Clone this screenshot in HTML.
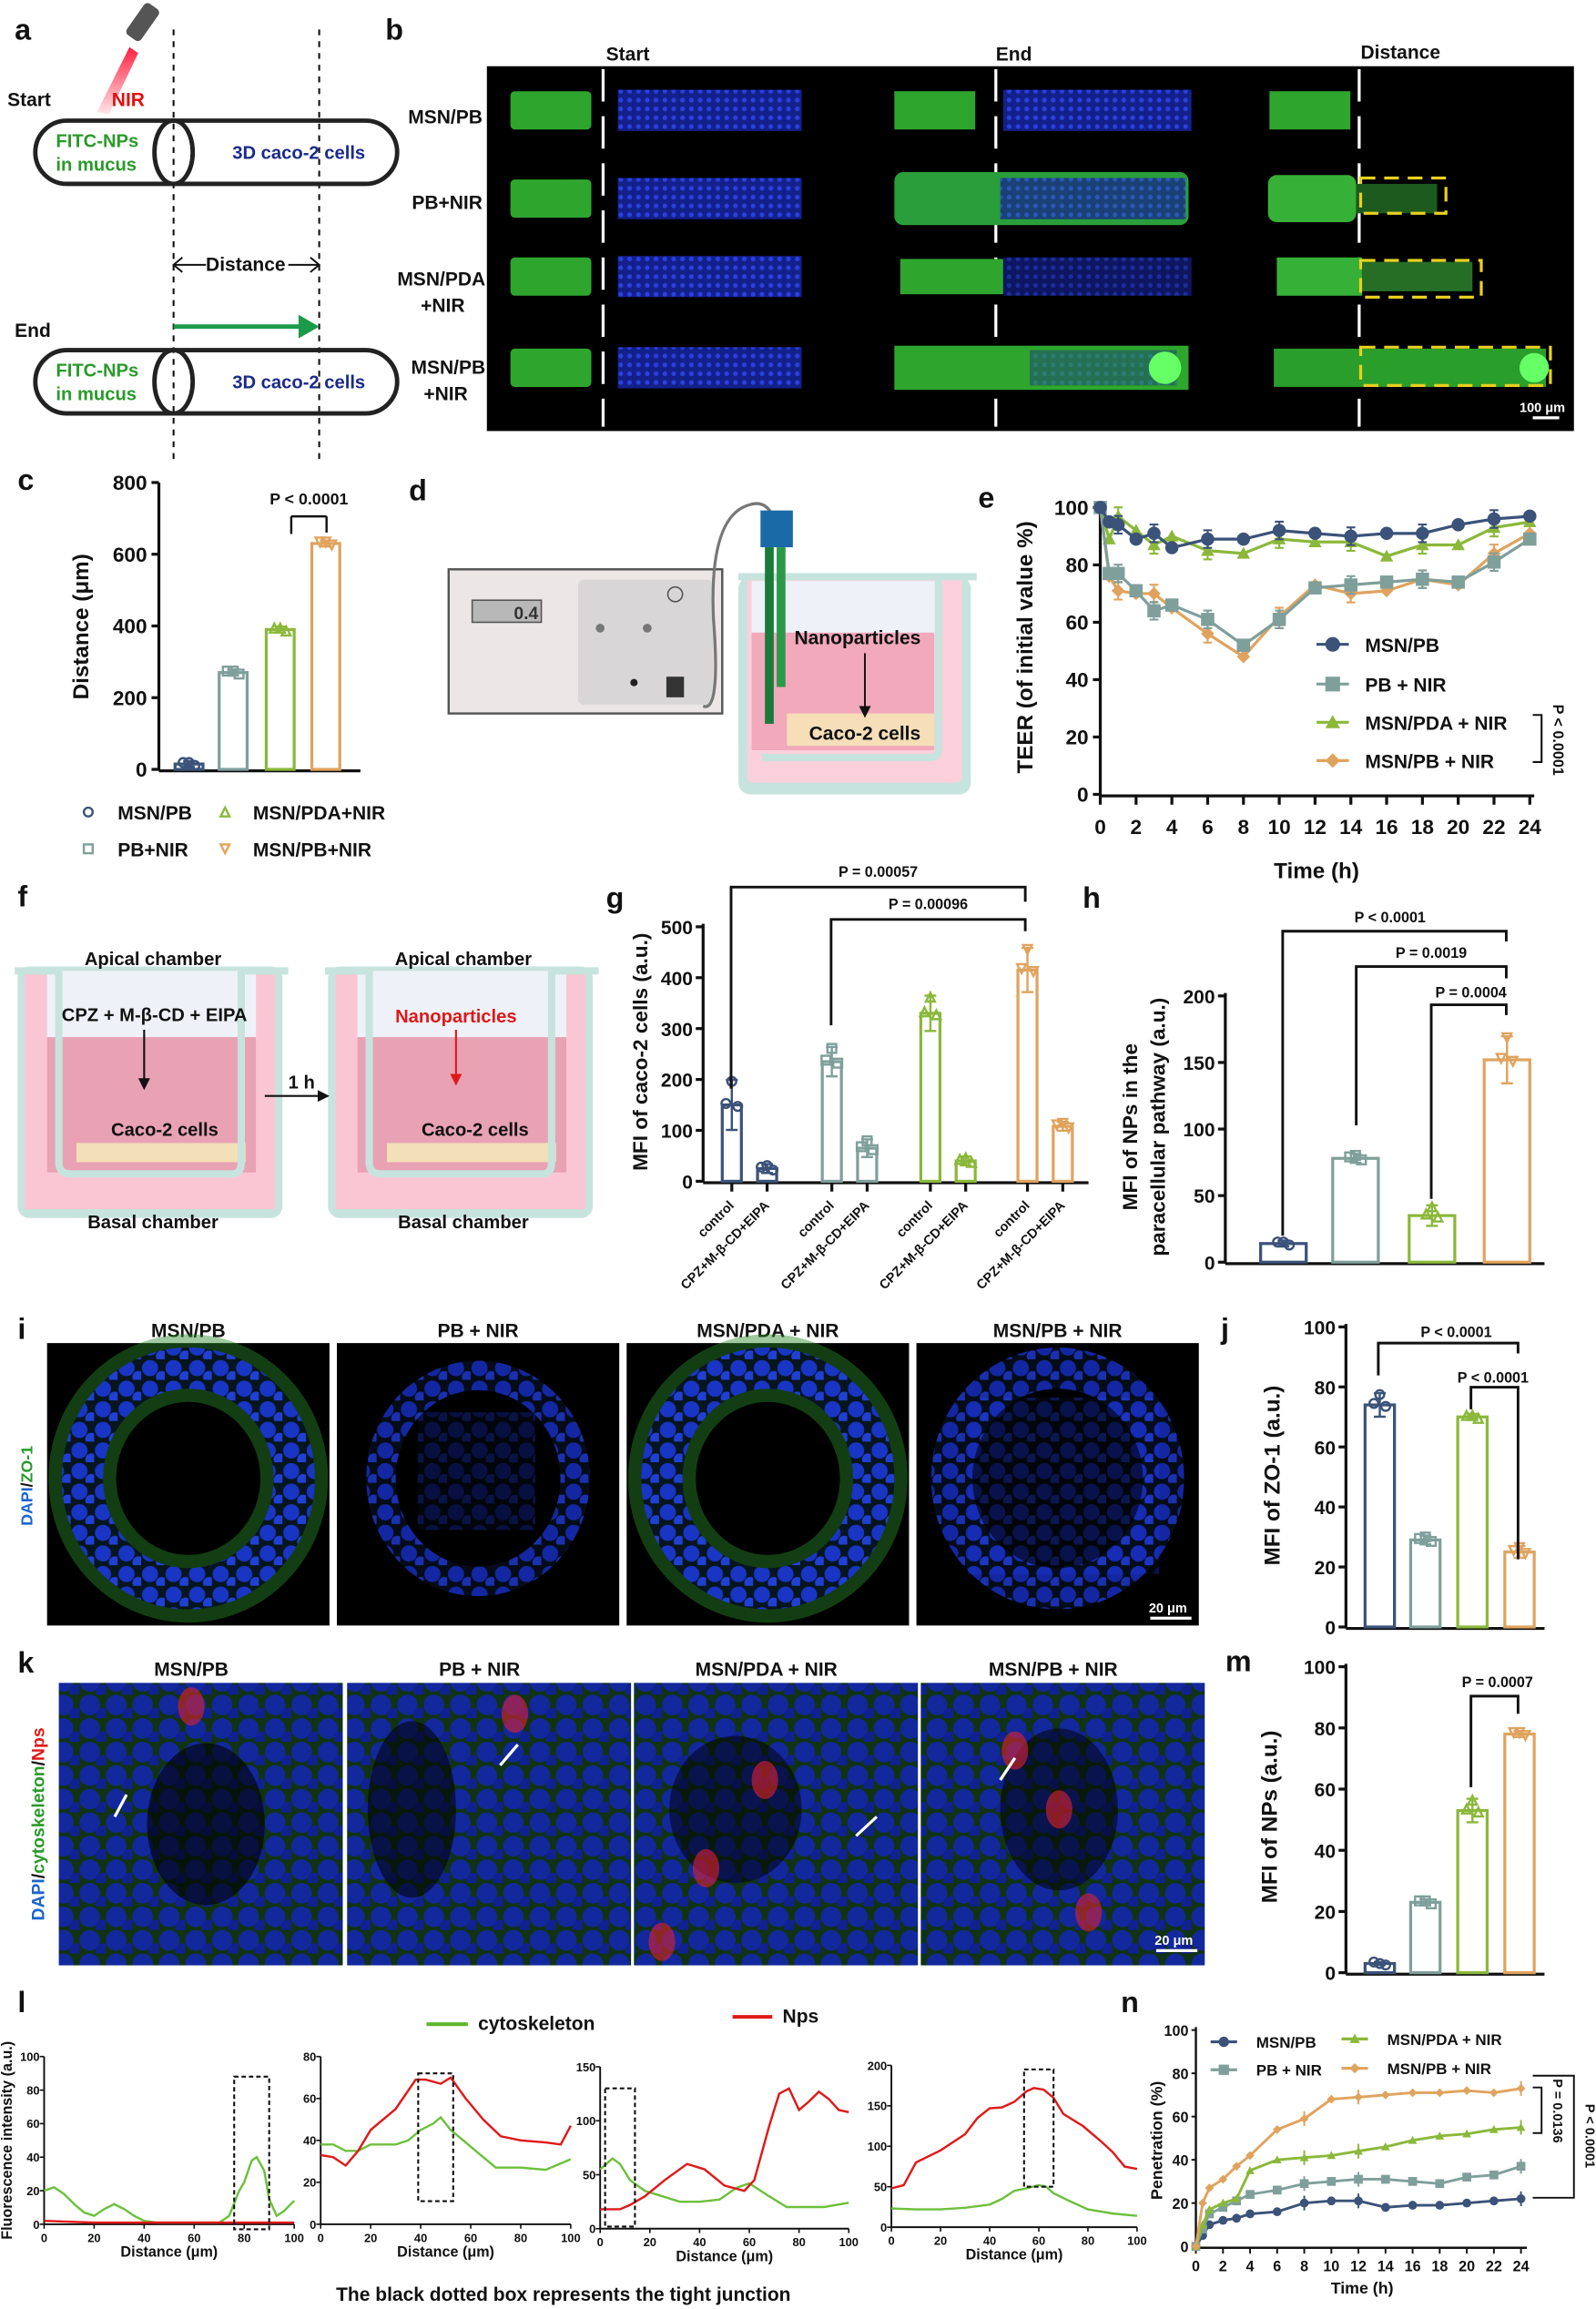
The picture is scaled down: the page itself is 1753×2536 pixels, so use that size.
<!DOCTYPE html>
<html><head><meta charset="utf-8"><style>
html,body{margin:0;padding:0;background:#fff}
svg{display:block}
text{font-family:"Liberation Sans",sans-serif;font-weight:bold}
</style></head><body>
<svg id="s" width="1753" height="2536" viewBox="0 0 1085 1569.6" xmlns="http://www.w3.org/2000/svg">
<defs>
<pattern id="cells" width="16" height="14" patternUnits="userSpaceOnUse">
<rect width="16" height="14" fill="#061020"/>
<circle cx="6" cy="6" r="5.5" fill="#1a34d8"/><circle cx="14" cy="12" r="4" fill="#2240e8"/>
</pattern>
<pattern id="cellsg" width="18" height="16" patternUnits="userSpaceOnUse">
<rect width="18" height="16" fill="#184a1c"/>
<circle cx="7" cy="7" r="7" fill="#1c3ae0"/><circle cx="16" cy="14" r="5" fill="#1830d0"/>
</pattern>
<pattern id="bluedots" width="6" height="6" patternUnits="userSpaceOnUse">
<rect width="6" height="6" fill="#14208a"/><circle cx="2" cy="2" r="1.6" fill="#2a40e0"/>
</pattern>
<linearGradient id="beam" x1="0" y1="0" x2="0" y2="1"><stop offset="0" stop-color="#ff2040"/><stop offset="1" stop-color="#ff2040" stop-opacity="0.1"/></linearGradient>
</defs>
<g id="g"></g>
</svg>
<script>
var o='';
function T(x,y,s,t,a,fill,extra){o+='<text x="'+x+'" y="'+y+'" font-size="'+s+'" text-anchor="'+(a||'start')+'" fill="'+(fill||'#111')+'" '+(extra||'')+'>'+t+'</text>';}
function L(x1,y1,x2,y2,c,w,extra){o+='<line x1="'+x1+'" y1="'+y1+'" x2="'+x2+'" y2="'+y2+'" stroke="'+(c||'#111')+'" stroke-width="'+(w||1.5)+'" '+(extra||'')+'/>';}
function R(x,y,w,h,f,extra){o+='<rect x="'+x+'" y="'+y+'" width="'+w+'" height="'+h+'" fill="'+f+'" '+(extra||'')+'/>';}
function P(pts,c,w,extra){o+='<polyline points="'+pts.map(function(p){return p[0].toFixed(1)+','+p[1].toFixed(1)}).join(' ')+'" fill="none" stroke="'+c+'" stroke-width="'+(w||1.5)+'" '+(extra||'')+'/>';}
var NV='#3b5279',TL='#7f9f9b',GR='#8bb83a',OR='#e0a35e',COL=[NV,TL,GR,OR];
function RT(x,y,s,t,fill){T(x,y,s,t,'middle',fill,'transform="rotate(-90 '+x+' '+y+')"');}
function om(x,y,i,r){r=r||3;var c=COL[i],s='fill="none" stroke="'+c+'" stroke-width="1.5"';
 if(i==0)o+='<circle cx="'+x+'" cy="'+y+'" r="'+r+'" '+s+'/>';
 else if(i==1)o+='<rect x="'+(x-r)+'" y="'+(y-r)+'" width="'+2*r+'" height="'+2*r+'" '+s+'/>';
 else if(i==2)o+='<polygon points="'+x+','+(y-r)+' '+(x+r)+','+(y+r)+' '+(x-r)+','+(y+r)+'" '+s+'/>';
 else o+='<polygon points="'+(x-r)+','+(y-r)+' '+(x+r)+','+(y-r)+' '+x+','+(y+r)+'" '+s+'/>';}
function bar(x,w,y0,top,i,err){var hgt=y0-top;R(x,top,w,hgt,'none','stroke="'+COL[i]+'" stroke-width="2"');
 var xc=x+w/2;err=err||3;L(xc,top-err,xc,top+err,COL[i],1.5);L(xc-4,top-err,xc+4,top-err,COL[i],1.5);L(xc-4,top+err,xc+4,top+err,COL[i],1.5);
 om(xc-4,top-1,i,3);om(xc+4,top+1,i,3);om(xc,top-err+1,i,3);}
// ===== a =====
T(10,27,20,'a');
o+='<g transform="rotate(35 97 15)"><rect x="91" y="2" width="12" height="26" rx="3" fill="#555"/></g>';
o+='<polygon points="88,32 94,36 74,78 66,76" fill="url(#beam)"/>';
T(5,72,13,'Start');T(76,72,13,'NIR','start','#e01010');
L(118,20,118,312,'#111',1.3,'stroke-dasharray="4,4"');L(217,20,217,312,'#111',1.3,'stroke-dasharray="4,4"');
function caps(y){o+='<rect x="24" y="'+y+'" width="246" height="43" rx="21.5" fill="none" stroke="#222" stroke-width="3"/>';
o+='<ellipse cx="118" cy="'+(y+21.5)+'" rx="13" ry="21.5" fill="none" stroke="#222" stroke-width="3"/>';
T(38,y+18,12.5,'FITC-NPs','start','#2a9a2a');T(38,y+34,12.5,'in mucus','start','#2a9a2a');T(158,y+26,12.5,'3D caco-2 cells','start','#1a2a8a');}
caps(82);caps(238);
T(167,184,13,'Distance','middle');L(118,180,140,180,'#111',1.2);L(196,180,217,180,'#111',1.2);
P([[124,175],[118,180],[124,185]],'#111',1.2);P([[211,175],[217,180],[211,185]],'#111',1.2);
T(10,229,13,'End');L(118,222,205,222,'#1a9a4a',3);o+='<polygon points="203,214 217,222 203,230" fill="#1a9a4a"/>';
// ===== b =====
T(262,27,20,'b');
R(331,45,739,248,'#000');
T(412,41,13,'Start');T(677,41,13,'End');T(925,40,13,'Distance');
T(328,84,13,'MSN/PB','end');T(328,142,13,'PB+NIR','end');T(330,194,13,'MSN/PDA','end');T(316,212,13,'+NIR','end');T(330,254,13,'MSN/PB','end');T(318,272,13,'+NIR','end');
[410,677,924].forEach(function(x){L(x,47,x,290,'#fff',2,'stroke-dasharray="22,10"');});
var rows=[75,135,188,250];
rows.forEach(function(y,i){
 R(347,y-13,55,26,'#2ea62e','rx="3"');
 R(420,y-14,125,28,'url(#bluedots)');
 if(i==0){R(608,y-13,55,26,'#2ea62e');R(682,y-14,128,28,'url(#bluedots)');R(863,y-13,55,26,'#2ea62e');}
 if(i==1){R(608,y-18,200,36,'#2a9e3a','rx="6"');R(680,y-14,126,28,'url(#bluedots)','opacity="0.75"');R(862,y-16,60,32,'#36b036','rx="6"');R(922,y-10,55,20,'#1d5a1d');}
 if(i==2){R(612,y-12,70,24,'#2ea62e');R(682,y-13,128,26,'url(#bluedots)','opacity="0.7"');R(868,y-13,58,26,'#36b036');R(926,y-10,75,20,'#266e26');}
 if(i==3){R(608,y-15,200,30,'#2ea62e');R(700,y-12,100,24,'url(#bluedots)','opacity="0.4"');o+='<circle cx="792" cy="'+y+'" r="11" fill="#6f6"/>';R(866,y-13,185,26,'#2a9e2a');o+='<circle cx="1043" cy="'+y+'" r="10" fill="#6f6"/>';}
});
o+='<g fill="none" stroke="#e8d020" stroke-width="2" stroke-dasharray="10,6">';
o+='<rect x="925" y="121" width="58" height="24"/><rect x="925" y="177" width="82" height="25"/><rect x="925" y="236" width="129" height="26"/></g>';
T(1033,280,9,'100 μm','start','#fff');L(1042,284,1060,284,'#fff',2);
// ===== c =====
T(12,333,20,'c');
var cx0=108,cy0=523,cs=(523-328)/800;
L(cx0,328,cx0,524,'#111',2);L(cx0,524,245,524,'#111',2);
[0,200,400,600,800].forEach(function(v){var y=cy0-v*cs;L(cx0-5,y,cx0,y,'#111',2);T(cx0-8,y+5,14,v,'end');});
RT(60,426,15,'Distance (μm)');
var cb=[[118,15],[148,270],[180,390],[211,630]];
cb.forEach(function(b,i){bar(b[0]+1,19,cy0,cy0-b[1]*cs,i,2);});
L(198,351,198,363,'#111',1.5);L(198,351,222,351,'#111',1.5);L(222,351,222,362,'#111',1.5);T(210,343,11,'P &lt; 0.0001','middle');
om(60,552,0,3);T(80,557,13,'MSN/PB');
om(60,577,1,3);T(80,582,13,'PB+NIR');
om(153,552,2,3);T(172,557,13,'MSN/PDA+NIR');
om(153,577,3,3);T(172,582,13,'MSN/PB+NIR');
// ===== d =====
T(278,340,20,'d');
R(305,387,186,98,'#ece6e6','stroke="#555" stroke-width="1.5"');R(393,394,92,85,'#d8d6d6','rx="4"');
R(321,408,47,15,'#b8b8b8','stroke="#555"');T(366,421,12,'0.4','end','#333','font-weight="normal"');
o+='<circle cx="459" cy="404" r="5" fill="none" stroke="#555"/><circle cx="408" cy="427" r="3" fill="#777"/><circle cx="440" cy="427" r="3" fill="#777"/><circle cx="431" cy="464" r="2.5" fill="#222"/>';
R(453,460,12,14,'#333');
o+='<path d="M478,480 Q490,485 485,420 Q482,350 510,343 Q520,340 525,350" fill="none" stroke="#777" stroke-width="2"/>';
R(502,392,158,148,'#c7e3de','rx="8"');R(508,392,146,140,'#fbd0dc','rx="4"');R(511,395,126,36,'#eef2f8');
R(511,430,124,80,'#f1a9bb');R(535,485,100,22,'#f5deb8');
o+='<path d="M502,392 L664,392 M638,392 L638,510 Q638,515 632,515 L518,515" fill="none" stroke="#c7e3de" stroke-width="5"/>';
R(517,347,22,25,'#1a6aa8');R(520,372,6,120,'#1a7a3a');R(528,372,6,95,'#2a9a4a');
T(540,438,13,'Nanoparticles');L(588,444,588,482,'#111',1.2);o+='<polygon points="584,480 592,480 588,488" fill="#111"/>';T(550,503,13,'Caco-2 cells');
// ===== e =====
T(665,345,20,'e');
var ex0=748,ey0=540,es=(540-345)/100,exs=(1040-748)/24;
L(ex0,342,ex0,541,'#111',2);L(ex0,541,1043,541,'#111',2);
[0,20,40,60,80,100].forEach(function(v){var y=ey0-v*es;L(ex0-5,y,ex0,y,'#111',2);T(ex0-8,y+5,14,v,'end');});
for(var h=0;h<=24;h+=2){var x=ex0+h*exs;L(x,541,x,547,'#111',2);T(x,567,14,h,'middle');}
T(895,597,15,'Time (h)','middle');RT(702,440,15,'TEER (of initial value %)');
var ed=[
[[0,100],[0.5,95],[1,94],[2,89],[3,91],[4,86],[6,89],[8,89],[10,92],[12,91],[14,90],[16,91],[18,91],[20,94],[22,96],[24,97]],
[[0,100],[0.5,77],[1,77],[2,71],[3,64],[4,66],[6,61],[8,52],[10,61],[12,72],[14,73],[16,74],[18,75],[20,74],[22,81],[24,89]],
[[0,100],[0.5,89],[1,97],[2,92],[3,87],[4,90],[6,85],[8,84],[10,89],[12,88],[14,88],[16,83],[18,87],[20,87],[22,93],[24,95]],
[[0,100],[0.5,76],[1,71],[2,70],[3,70],[4,65],[6,56],[8,48],[10,62],[12,73],[14,70],[16,71],[18,75],[20,73],[22,84],[24,91]]];
function mk(x,y,i,r){r=r||4;var c=COL[i];
 if(i==0)o+='<circle cx="'+x+'" cy="'+y+'" r="'+r+'" fill="'+c+'"/>';
 else if(i==1)R(x-r,y-r,2*r,2*r,c);
 else if(i==2)o+='<polygon points="'+x+','+(y-r)+' '+(x+r)+','+(y+r*0.8)+' '+(x-r)+','+(y+r*0.8)+'" fill="'+c+'"/>';
 else o+='<polygon points="'+x+','+(y-r)+' '+(x+r)+','+y+' '+x+','+(y+r)+' '+(x-r)+','+y+'" fill="'+c+'"/>';}
[3,2,1,0].forEach(function(i){var pts=ed[i].map(function(p){return[ex0+p[0]*exs,ey0-p[1]*es]});P(pts,COL[i],2);
 pts.forEach(function(p,k){if(k>0&&k%2==0){L(p[0],p[1]-6,p[0],p[1]+6,COL[i],1.3);L(p[0]-3,p[1]-6,p[0]+3,p[1]-6,COL[i],1.3);L(p[0]-3,p[1]+6,p[0]+3,p[1]+6,COL[i],1.3);}mk(p[0],p[1],i,4.5);});});
[438,465,491,517].forEach(function(y,i){L(895,y,917,y,COL[i],2);mk(906,y,i,5);T(928,y+5,13,['MSN/PB','PB + NIR','MSN/PDA + NIR','MSN/PB + NIR'][i]);});
P([[1042,486],[1048,486],[1048,518],[1042,518]],'#111',1.3);T(1056,503,10,'P &lt; 0.0001','middle','#111','transform="rotate(90 1056 503)"');
// ===== f =====
T(12,616,20,'f');
function tw(x){R(x,657,180,171,'#c7e3de','rx="8"');R(x+5,660,170,162,'#fbc6d4');
 R(x+20,660,142,48,'#eef2f8');R(x+20,705,142,92,'#e8a2b4');R(x+40,777,115,13,'#f3dfb8');
 o+='<path d="M'+(x-2)+',660 L'+(x+28)+',660 M'+(x+152)+',660 L'+(x+184)+',660 M'+(x+28)+',660 L'+(x+28)+',790 Q'+(x+28)+',798 '+(x+36)+',798 L'+(x+146)+',798 Q'+(x+152)+',798 '+(x+152)+',790 L'+(x+152)+',660" fill="none" stroke="#c7e3de" stroke-width="5"/>';
 T(x+92,656,12.5,'Apical chamber','middle');T(x+92,835,12.5,'Basal chamber','middle');T(x+100,772,12.5,'Caco-2 cells','middle');}
tw(12);tw(223);
T(105,694,12.5,'CPZ + M-β-CD + EIPA','middle');L(98,700,98,735,'#111',1.3);o+='<polygon points="94,733 102,733 98,741" fill="#111"/>';
T(310,695,12.5,'Nanoparticles','middle','#e01818');L(310,700,310,732,'#e01818',1.3);o+='<polygon points="306,730 314,730 310,738" fill="#e01818"/>';
L(180,745,218,745,'#111',1.3);o+='<polygon points="216,741 224,745 216,749" fill="#111"/>';T(205,740,12.5,'1 h','middle');
// ===== g =====
T(412,617,20,'g');
var gx0=478,gy0=803,gs=(803-630)/500;
L(gx0,628,gx0,804,'#111',2);L(gx0,804,740,804,'#111',2);
[0,100,200,300,400,500].forEach(function(v){var y=gy0-v*gs;L(gx0-5,y,gx0,y,'#111',2);T(gx0-7,y+5,13,v,'end');});
RT(440,715,14,'MFI of caco-2 cells (a.u.)');
var gb=[[490,150,0,17],[514,25,0,3],[558,235,1,10],[582,65,1,6],[625,330,2,12],[649,40,2,3],[691,415,3,15],[715,108,3,3]];
gb.forEach(function(b,k){bar(b[0]+1,13,gy0,gy0-b[1]*gs,b[2],b[3]);
 var xc=b[0]+7.5;L(xc,804,xc,810,'#111',2);
 T(xc+2,820,9,k%2?'CPZ+M-β-CD+EIPA':'control','end','#111','transform="rotate(-45 '+(xc+2)+' 820)"');});
P([[497,740],[497,603],[697,603],[697,613]],'#111',1.8);T(597,596,10,'P = 0.00057','middle');
P([[565,697],[565,625],[697,625],[697,633]],'#111',1.8);T(631,618,10,'P = 0.00096','middle');
// ===== h =====
T(736,617,20,'h');
var hx0=833,hy0=858,hs=(858-677)/200;
L(hx0,675,hx0,859,'#111',2);L(hx0,859,1050,859,'#111',2);
[0,50,100,150,200].forEach(function(v){var y=hy0-v*hs;L(hx0-5,y,hx0,y,'#111',2);T(hx0-7,y+5,13,v,'end');});
T(773,766,14,'MFI of NPs in the','middle','#111','transform="rotate(-90 773 766)"');T(792,766,14,'paracellular pathway (a.u.)','middle','#111','transform="rotate(-90 792 766)"');
var hb=[[856,14,2],[905,78,3],[957,35,7],[1008,152,16]];
hb.forEach(function(b,i){bar(b[0]+1,31,hy0,hy0-b[1]*hs,i,b[2]);});
P([[872,840],[872,633],[1024,633],[1024,640]],'#111',1.8);T(945,627,10,'P &lt; 0.0001','middle');
P([[922,765],[922,657],[1024,657],[1024,665]],'#111',1.8);T(973,651,10,'P = 0.0019','middle');
P([[973,815],[973,683],[1024,683],[1024,690]],'#111',1.8);T(1000,678,10,'P = 0.0004','middle');
// ===== i =====
T(12,910,20,'i');
var ix=[32,229,426,623];
['MSN/PB','PB + NIR','MSN/PDA + NIR','MSN/PB + NIR'].forEach(function(t,i){var x=ix[i];
 T(x+96,909,13,t,'middle');R(x,913,192,192,'#000');
 if(i==0||i==2)o+='<ellipse cx="'+(x+96)+'" cy="1005" rx="72" ry="75" fill="none" stroke="#2a8a2a" stroke-width="46" opacity="0.45"/>';
 o+='<ellipse cx="'+(x+96)+'" cy="1005" rx="'+(i==1?66:72)+'" ry="'+(i==1?70:75)+'" fill="none" stroke="url(#cells)" stroke-width="'+(i==1?20:28)+'" opacity="'+(i==1||i==3?0.75:0.9)+'"/>';
 if(i==3)R(x+35,950,130,120,'url(#cells)','opacity="0.35"');
 if(i==1)R(x+55,960,80,80,'url(#cells)','opacity="0.3"');});
T(22,1010,11,'<tspan fill="#1a66cc">DAPI</tspan>/<tspan fill="#2a9a2a">ZO-1</tspan>','middle','#111','transform="rotate(-90 22 1010)"');
T(781,1096,9,'20 μm','start','#fff');L(782,1100,810,1100,'#fff',2);
// ===== j =====
T(830,910,20,'j');
var jx0=915,jy0=1106,js=(1106-902)/100;
L(jx0,900,jx0,1107,'#111',2);L(jx0,1107,1050,1107,'#111',2);
[0,20,40,60,80,100].forEach(function(v){var y=jy0-v*js;L(jx0-5,y,jx0,y,'#111',2);T(jx0-7,y+5,13,v,'end');});
RT(870,1003,15,'MFI of ZO-1 (a.u.)');
[[927,74,8],[958,29,3],[990,70,2],[1022,25,4]].forEach(function(b,i){bar(b[0]+1,20,jy0,jy0-b[1]*js,i,b[2]);});
P([[937,935],[937,913],[1032,913],[1032,920]],'#111',1.8);T(990,909,10,'P &lt; 0.0001','middle');
P([[1000,958],[1000,943],[1032,943],[1032,1060]],'#111',1.8);T(1015,940,10,'P &lt; 0.0001','middle');
// ===== k =====
T(12,1137,20,'k');
var kx=[40,236,431,626];
['MSN/PB','PB + NIR','MSN/PDA + NIR','MSN/PB + NIR'].forEach(function(t,i){var x=kx[i];
 T(x+90,1139,13,t,'middle');R(x,1144,193,192,'url(#cellsg)');R(x,1144,193,192,'#000','opacity="0.3"');});
o+='<ellipse cx="140" cy="1240" rx="40" ry="55" fill="#000" opacity="0.6"/><ellipse cx="280" cy="1230" rx="30" ry="60" fill="#000" opacity="0.55"/><ellipse cx="500" cy="1230" rx="45" ry="50" fill="#000" opacity="0.5"/><ellipse cx="720" cy="1230" rx="40" ry="55" fill="#000" opacity="0.5"/>';
[[350,1165],[480,1270],[520,1210],[690,1190],[740,1300],[720,1230],[450,1320],[130,1160]].forEach(function(p){o+='<ellipse cx="'+p[0]+'" cy="'+p[1]+'" rx="9" ry="13" fill="#e02030" opacity="0.6"/>';});
[[78,1235,86,1220],[340,1200,352,1186],[582,1248,596,1235],[680,1210,690,1195]].forEach(function(l){L(l[0],l[1],l[2],l[3],'#fff',2);});
T(30,1240,12,'<tspan fill="#1a66cc">DAPI</tspan>/<tspan fill="#2a9a2a">cytoskeleton</tspan>/<tspan fill="#e01818">Nps</tspan>','middle','#111','transform="rotate(-90 30 1240)"');
T(785,1322,9,'20 μm','start','#fff');L(786,1326,814,1326,'#fff',2);
// ===== m =====
T(833,1136,20,'m');
var mx0=915,my0=1341,ms=(1341-1133)/100;
L(mx0,1131,mx0,1342,'#111',2);L(mx0,1342,1050,1342,'#111',2);
[0,20,40,60,80,100].forEach(function(v){var y=my0-v*ms;L(mx0-5,y,mx0,y,'#111',2);T(mx0-7,y+5,13,v,'end');});
RT(868,1235,15,'MFI of NPs (a.u.)');
[[927,3,1],[958,23,2],[990,53,8],[1022,78,2]].forEach(function(b,i){bar(b[0]+1,20,my0,my0-b[1]*ms,i,b[2]);});
P([[1000,1215],[1000,1153],[1032,1153],[1032,1165]],'#111',1.8);T(1018,1147,10,'P = 0.0007','middle');
// ===== l =====
T(12,1368,20,'l');
L(290,1376,318,1376,'#5cb82c',2.5);T(325,1380,13,'cytoskeleton');L(498,1371,525,1371,'#e01818',2.5);T(532,1375,13,'Nps');
T(383,1564,13,'The black dotted box represents the tight junction','middle');
function lp(x0,x1,yt,yb,ymax,ticks,g,r,box){
 L(x0,yt,x0,yb,'#111',1.2);L(x0,yb,x1,yb,'#111',1.2);
 ticks.forEach(function(v){var y=yb-v/ymax*(yb-yt);L(x0-3,y,x0,y,'#111',1);T(x0-3,y+3,8,v,'end','#111','font-weight="normal"');});
 for(var d=0;d<=100;d+=20){var x=x0+d/100*(x1-x0);L(x,yb,x,yb+3,'#111',1);T(x,yb+12,8,d,'middle','#111','font-weight="normal"');}
 T((x0+x1)/2,yb+22,10,'Distance (μm)','middle','#111','font-weight="normal"');
 function m(a){return a.map(function(p){return[x0+p[0]/100*(x1-x0),yb-p[1]/ymax*(yb-yt)]});}
 P(m(g),'#6cc03c',1.5);P(m(r),'#e01818',1.5);
 R(x0+box[0]/100*(x1-x0),yb-box[1]/ymax*(yb-yt),(box[2]-box[0])/100*(x1-x0),(box[1]-box[3])/ymax*(yb-yt),'none','stroke="#111" stroke-width="1.3" stroke-dasharray="3,2"');}
lp(30,200,1398,1512,100,[0,20,40,60,80,100],
 [[0,20],[4,22],[8,18],[12,12],[16,7],[20,5],[24,9],[28,12],[32,9],[36,5],[40,2],[45,1],[60,1],[70,1],[74,5],[78,20],[80,25],[83,38],[85,40],[88,32],[90,15],[93,5],[96,8],[100,14]],
 [[0,2],[20,1],[50,1],[80,1],[100,1]],[76,88,90,-3]);
T(8,1455,10,'Fluorescence intensity (a.u.)','middle','#111','font-weight="normal" transform="rotate(-90 8 1455)"');
lp(218,388,1398,1512,80,[0,20,40,60,80],
 [[0,38],[5,38],[10,35],[15,35],[20,38],[25,38],[30,38],[35,40],[40,45],[45,48],[48,51],[52,45],[57,40],[62,35],[70,27],[80,27],[90,26],[100,31]],
 [[0,33],[5,32],[10,28],[15,35],[20,45],[30,55],[38,69],[42,69],[48,67],[52,70],[58,60],[65,50],[72,42],[80,40],[90,39],[96,38],[100,47]],[39,72,53,11]);
lp(408,577,1405,1515,150,[0,50,100,150],
 [[0,55],[5,65],[8,60],[12,45],[18,35],[25,30],[32,25],[40,25],[48,27],[55,38],[60,42],[68,30],[75,20],[82,20],[90,20],[100,24]],
 [[0,18],[8,18],[12,22],[18,30],[26,45],[35,60],[42,55],[50,40],[58,35],[62,45],[68,95],[72,125],[76,130],[80,110],[84,118],[88,127],[92,120],[96,110],[100,108]],[2,130,14,2]);
lp(606,773,1404,1514,200,[0,50,100,150,200],
 [[0,23],[10,22],[20,22],[30,24],[40,28],[45,35],[50,45],[55,48],[60,52],[63,50],[66,42],[72,33],[80,22],[90,17],[100,14]],
 [[0,48],[5,52],[10,80],[20,95],[30,115],[35,135],[40,147],[45,148],[50,155],[55,168],[58,172],[62,170],[66,160],[70,140],[78,125],[85,107],[90,93],[95,75],[100,72]],[54,195,66,50]);
// ===== n =====
T(762,1368,20,'n');
var nx0=813,ny0=1527,ns=(1527-1380)/100,nxs=(1034-813)/24;
L(nx0,1378,nx0,1528,'#111',1.5);L(nx0,1528,1038,1528,'#111',1.5);
[0,20,40,60,80,100].forEach(function(v){var y=ny0-v*ns;L(nx0-3,y,nx0,y,'#111',1.2);T(nx0-5,y+4,10,v,'end');});
for(var h=0;h<=24;h+=2){var x=nx0+h*nxs;L(x,1528,x,1532,'#111',1.2);T(x,1544,10,h,'middle');}
T(926,1559,11,'Time (h)','middle');RT(790,1455,11,'Penetration (%)');
var nd=[
[[0,0],[0.5,5],[1,10],[2,12],[3,13],[4,15],[6,16],[8,20],[10,21],[12,21],[14,18],[16,19],[18,19],[20,20],[22,21],[24,22]],
[[0,0],[0.5,8],[1,15],[2,18],[3,21],[4,24],[6,26],[8,29],[10,30],[12,31],[14,31],[16,30],[18,29],[20,32],[22,33],[24,37]],
[[0,0],[0.5,10],[1,17],[2,20],[3,22],[4,35],[6,40],[8,41],[10,42],[12,44],[14,46],[16,49],[18,51],[20,52],[22,54],[24,55]],
[[0,0],[0.5,20],[1,27],[2,31],[3,37],[4,42],[6,54],[8,59],[10,68],[12,69],[14,70],[16,71],[18,71],[20,72],[22,71],[24,73]]];
[0,1,2,3].forEach(function(i){var pts=nd[i].map(function(p){return[nx0+p[0]*nxs,ny0-p[1]*ns]});P(pts,COL[i],1.8);pts.forEach(function(p,k){if(k==7||k==9||k==15){L(p[0],p[1]-5,p[0],p[1]+5,COL[i],1.2);}mk(p[0],p[1],i,3);});});
[[832,1388,0,'MSN/PB'],[832,1407,1,'PB + NIR'],[921,1386,2,'MSN/PDA + NIR'],[921,1406,3,'MSN/PB + NIR']].forEach(function(a){L(a[0]-9,a[1],a[0]+9,a[1],COL[a[2]],2);mk(a[0],a[1],a[2],3.5);T(a[0]+22,a[1]+4,10.5,a[3]);});
P([[1042,1419],[1048,1419],[1048,1450],[1042,1450]],'#111',1.2);T(1056,1435,9,'P = 0.0136','middle','#111','transform="rotate(90 1056 1435)"');
P([[1042,1411],[1070,1411],[1070,1494],[1042,1494]],'#111',1.2);T(1078,1452,9,'P &lt; 0.0001','middle','#111','transform="rotate(90 1078 1452)"');
document.getElementById('g').innerHTML=o;
</script>
</body></html>
